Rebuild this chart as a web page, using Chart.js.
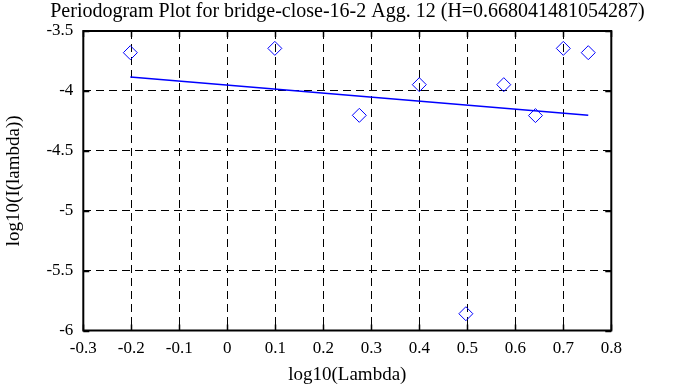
<!DOCTYPE html>
<html>
<head>
<meta charset="utf-8">
<script src="https://cdn.jsdelivr.net/npm/chart.js@4/dist/chart.umd.min.js"></script>
<style>
  html, body { margin: 0; padding: 0; background: #fff; }
</style>
</head>
<body>
<canvas id="periodogram" width="695" height="387"></canvas>
<script>
// values
const logLambda = [-0.202, 0.099, 0.275, 0.400, 0.497, 0.576, 0.642, 0.700, 0.752];
const logPeriod = [-3.681, -3.645, -4.204, -3.948, -5.860, -3.948, -4.206, -3.645, -3.681];
const fitX = [-0.202, 0.752];
const fitY = [-3.884, -4.204];
const xTickValues = [-0.3, -0.2, -0.1, 0, 0.1, 0.2, 0.3, 0.4, 0.5, 0.6, 0.7, 0.8];
const xTickLabels = ['-0.3', '-0.2', '-0.1', '0', '0.1', '0.2', '0.3', '0.4', '0.5', '0.6', '0.7', '0.8'];
const yTickValues = [-6, -5.5, -5, -4.5, -4, -3.5];
const yTickLabels = ['-6', '-5.5', '-5', '-4.5', '-4', '-3.5'];

const serif = '"Liberation Serif", "DejaVu Serif", serif';

// frame + inward tick marks like gnuplot
const framePlugin = {
    id: 'frame',
    afterDatasetsDraw(chart) {
        const { ctx, chartArea: a, scales } = chart;
        ctx.save();
        ctx.strokeStyle = '#000';
        ctx.lineWidth = 1.5;
        ctx.beginPath();
        scales.x.ticks.forEach(t => {
            const px = Math.round(scales.x.getPixelForValue(t.value)) + 0.5;
            ctx.moveTo(px, a.top); ctx.lineTo(px, a.top + 6);
            ctx.moveTo(px, a.bottom); ctx.lineTo(px, a.bottom - 6);
        });
        scales.y.ticks.forEach(t => {
            const py = Math.round(scales.y.getPixelForValue(t.value)) + 0.5;
            ctx.moveTo(a.left, py); ctx.lineTo(a.left + 6, py);
            ctx.moveTo(a.right, py); ctx.lineTo(a.right - 6, py);
        });
        ctx.stroke();
        ctx.lineWidth = 2;
        ctx.strokeRect(a.left, a.top, a.right - a.left, a.bottom - a.top);
        ctx.restore();
    }
};

const ctx = document.getElementById('periodogram').getContext('2d');
const chart = new Chart(ctx, {
    type: 'scatter',
    data: {
        datasets: [
            {
                label: 'periodogram',
                data: logLambda.map((x, i) => ({ x: x, y: logPeriod[i] })),
                pointStyle: 'rectRot',
                pointRadius: 7,
                pointBorderWidth: 1,
                borderColor: '#0000ff',
                backgroundColor: 'rgba(0,0,0,0)',
                showLine: false
            },
            {
                label: 'fit',
                type: 'line',
                data: fitX.map((x, i) => ({ x: x, y: fitY[i] })),
                borderColor: '#0000ff',
                borderWidth: 1.5,
                pointRadius: 0,
                fill: false
            }
        ]
    },
    options: {
        responsive: false,
        animation: false,
        devicePixelRatio: 1,
        layout: { padding: 0 },
        plugins: {
            legend: { display: false },
            tooltip: { enabled: false },
            title: {
                display: true,
                text: 'Periodogram Plot for bridge-close-16-2 Agg. 12 (H=0.668041481054287)',
                color: '#000',
                font: { family: serif, size: 20, weight: 'normal' },
                padding: { top: 0, bottom: 7 }
            }
        },
        scales: {
            x: {
                type: 'linear',
                min: -0.3,
                max: 0.8,
                afterBuildTicks: s => { s.ticks = xTickValues.map(v => ({ value: v })); },
                afterFit: s => { s.height = 56.5; },
                ticks: {
                    color: '#000',
                    font: { family: serif, size: 17 },
                    padding: 8,
                    maxRotation: 0,
                    callback: (v, i) => xTickLabels[i]
                },
                grid: {
                    color: '#000',
                    lineWidth: 1,
                    drawTicks: false,
                    tickLength: 0
                },
                border: { display: false, dash: [8, 5] },
                title: {
                    display: true,
                    text: 'log10(Lambda)',
                    color: '#000',
                    font: { family: serif, size: 19 },
                    padding: { top: 0, bottom: 1 }
                }
            },
            y: {
                type: 'linear',
                min: -6,
                max: -3.5,
                afterBuildTicks: s => { s.ticks = yTickValues.map(v => ({ value: v })); },
                afterFit: s => { s.width = 83.3; },
                ticks: {
                    color: '#000',
                    font: { family: serif, size: 17 },
                    padding: 10,
                    callback: (v, i) => yTickLabels[i]
                },
                grid: {
                    color: '#000',
                    lineWidth: 1,
                    drawTicks: false,
                    tickLength: 0
                },
                border: { display: false, dash: [8, 5] },
                title: {
                    display: true,
                    text: 'log10(I(lambda))',
                    color: '#000',
                    font: { family: serif, size: 19 },
                    padding: { top: 3, bottom: 0 }
                }
            },
            // empty right-hand box keeps the plot narrow without shifting the title
            yRight: {
                type: 'linear',
                position: 'right',
                display: true,
                min: -6,
                max: -3.5,
                afterFit: s => { s.width = 83.7; },
                ticks: { display: false },
                grid: { display: false, drawTicks: false },
                border: { display: false }
            }
        }
    },
    plugins: [framePlugin]
});
</script>
</body>
</html>
